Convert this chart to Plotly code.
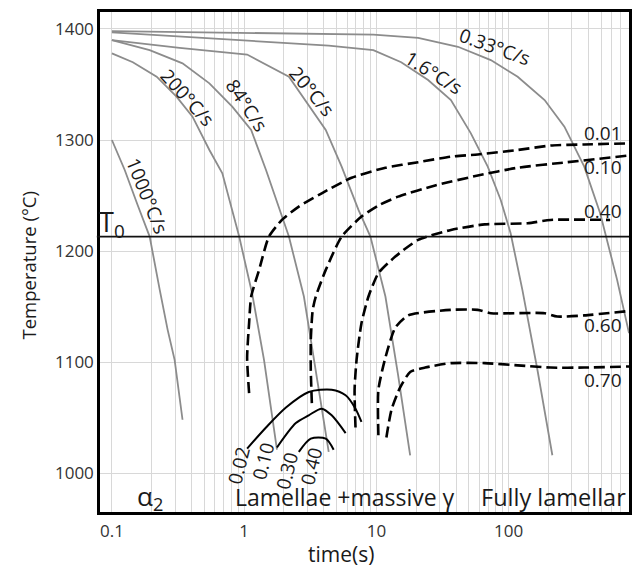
import numpy as np
import plotly.graph_objects as go

# ---------------- data ----------------
# cooling curves: time (s) / temperature (°C)
t_1000 = [0.100, 0.125, 0.157, 0.193, 0.230, 0.264, 0.298, 0.342]
T_1000 = [1300, 1273, 1241, 1213, 1165, 1129, 1102, 1048]
t_200 = [0.100, 0.144, 0.218, 0.308, 0.407, 0.546, 0.684, 0.917, 1.148, 1.413, 1.77]
T_200 = [1378, 1370, 1357, 1339, 1321, 1291, 1270, 1213, 1162, 1102, 1021]
t_84 = [0.100, 0.193, 0.342, 0.546, 0.813, 1.13, 1.463, 2.18, 2.83, 3.36, 4.36]
T_84 = [1390, 1381, 1369, 1351, 1330, 1309, 1273, 1213, 1159, 1102, 1019]
t_20 = [0.100, 0.325, 1.053, 2.18, 4.14, 5.46, 7.32, 9.01, 11.7, 14.6, 18.0]
T_20 = [1390, 1383, 1377, 1357, 1309, 1276, 1237, 1213, 1159, 1088, 1016]
t_16 = [0.100, 4.36, 9.48, 15.4, 24.6, 36.6, 51.8, 69.5, 87.1, 103.5, 127, 165, 214]
T_16 = [1397, 1385, 1381, 1370, 1354, 1336, 1306, 1276, 1246, 1216, 1165, 1093, 1016]
t_033 = [0.100, 9.48, 20.7, 41.4, 73.3, 117, 187, 264, 373, 492, 661, 813]
T_033 = [1398, 1395, 1392, 1384, 1372, 1357, 1336, 1312, 1276, 1234, 1174, 1126]

rate_labels = ["1000°C/s", "200°C/s", "84°C/s", "20°C/s", "1.6°C/s", "0.33°C/s"]

# transformed-fraction (dashed) curves
t_d001 = [1.09, 1.053, 1.09, 1.13, 1.297, 1.54, 1.93, 2.59, 3.86, 6.49, 11.7, 20.7, 36.6, 58.4, 117, 207, 373, 813]
T_d001 = [1072, 1104, 1135, 1159, 1183, 1213, 1228, 1240, 1252, 1266, 1275, 1280, 1285, 1287, 1291, 1295, 1296, 1297]
t_d010 = [3.25, 3.19, 3.19, 3.30, 3.48, 4.14, 5.46, 7.71, 10.35, 14.6, 27.8, 58.4, 117, 278, 813]
T_d010 = [1063, 1093, 1120, 1147, 1159, 1183, 1213, 1231, 1241, 1249, 1259, 1268, 1275, 1280, 1286]
t_d040 = [6.95, 6.84, 7.08, 7.71, 8.71, 10.35, 13.9, 20.7, 36.6, 66, 139, 207, 585]
T_d040 = [1041, 1075, 1102, 1135, 1159, 1180, 1195, 1210, 1219, 1224, 1225, 1228, 1228]
t_d060 = [10.35, 10.35, 11.7, 13.9, 17.4, 36.6, 58.4, 73.3, 187, 233, 373, 813]
T_d060 = [1034, 1075, 1104, 1131, 1142, 1147, 1147, 1144, 1144, 1141, 1142, 1146]
t_d070 = [11.9, 13.0, 15.1, 18.0, 23.4, 36.6, 66, 117, 207, 373, 813]
T_d070 = [1032, 1057, 1077, 1091, 1095, 1099, 1099, 1097, 1095, 1095, 1096]
dash_labels = ["0.01", "0.10", "0.40", "0.60", "0.70"]

# massive-transformation (solid black) curves
t_s002 = [1.053, 1.463, 2.07, 3.08, 4.59, 5.85, 6.95, 7.71]
T_s002 = [1022, 1041, 1059, 1073, 1075, 1070, 1058, 1046]
t_s010 = [1.77, 2.46, 3.08, 3.86, 4.59, 5.85]
T_s010 = [1023, 1045, 1052, 1058, 1052, 1036]
t_s030 = [2.59, 3.19, 4.14, 4.75]
T_s030 = [1019, 1031, 1031, 1021]
solid_labels = ["0.02", "0.10", "0.30", "0.40"]

T0 = 1213
x_ticks = [0.1, 1, 10, 100]
x_ticktext = ["0.1", "1", "10", "100"]
y_ticks = [1000, 1100, 1200, 1300, 1400]

# ---------------- figure ----------------
fig = go.Figure()
GRAY = "#8c8c8c"
for tt, TT in [(t_1000, T_1000), (t_200, T_200), (t_84, T_84), (t_20, T_20),
               (t_16, T_16), (t_033, T_033)]:
    fig.add_trace(go.Scatter(x=tt, y=TT, mode="lines",
                             line=dict(color=GRAY, width=1.8)))
for tt, TT in [(t_d001, T_d001), (t_d010, T_d010), (t_d040, T_d040),
               (t_d060, T_d060), (t_d070, T_d070)]:
    fig.add_trace(go.Scatter(x=tt, y=TT, mode="lines",
                             line=dict(color="black", width=2.6, dash="11px,5px",
                                       shape="spline", smoothing=0.6)))
for tt, TT in [(t_s002, T_s002), (t_s010, T_s010), (t_s030, T_s030)]:
    fig.add_trace(go.Scatter(x=tt, y=TT, mode="lines",
                             line=dict(color="black", width=2.0,
                                       shape="spline", smoothing=0.8)))

fig.add_shape(type="line", xref="paper", x0=-0.006, x1=1, yref="y",
              y0=T0, y1=T0, line=dict(color="#111", width=1.8))

# minor grid positions (2..9 per decade)
grid_vals = [m * 10 ** e for e in range(-1, 3) for m in range(2, 10)]

fig.update_xaxes(type="log", range=[-1.09, 2.91], tickvals=x_ticks,
                 ticktext=x_ticktext, showgrid=True, gridcolor="#d8d8d8",
                 gridwidth=1,
                 minor=dict(tickmode="array", tickvals=grid_vals, showgrid=True,
                            gridcolor="#d8d8d8", gridwidth=1, ticks=""),
                 showline=True, linecolor="black", linewidth=2.5,
                 mirror=True, ticks="", zeroline=False, ticklabelstandoff=2,
                 tickfont=dict(size=17, color="#333"))
fig.update_yaxes(range=[964.9, 1415.3], tickvals=y_ticks, showgrid=True,
                 gridcolor="#d8d8d8", gridwidth=1, showline=True,
                 linecolor="black", linewidth=2.5, mirror=True, ticks="",
                 zeroline=False, tickfont=dict(size=17, color="#333"))

ann = []
def add(text, x, y, size=17, angle=0, xanchor="center", yanchor="middle",
        xref="x", yref="y", color="#1a1a1a", yshift=0):
    ann.append(dict(text=text, x=x, y=y, xref=xref, yref=yref, showarrow=False,
                    textangle=angle, xanchor=xanchor, yanchor=yanchor,
                    font=dict(size=size, color=color), borderpad=0,
                    yshift=yshift))

# cooling-rate labels (x given as log10 of time)
rate_pos = [(-0.73, 1250, 68), (-0.425, 1338, 48), (0.025, 1331, 56),
            (0.51, 1344, 50), (1.435, 1360, 32), (1.90, 1384, 20)]
for lab, (x, y, a) in zip(rate_labels, rate_pos):
    add(lab, x, y, size=19, angle=a)
for lab, y in zip(dash_labels, [1306, 1276, 1236, 1133, 1084]):
    add(lab, 2.714, y, size=19)
for lab, x, y in zip(solid_labels, [-0.0376, 0.143, 0.323, 0.511],
                     [1007, 1011, 1002, 1006]):
    add(lab, x, y, size=19, angle=-76)

add("T<sub>0</sub>", -0.004, T0, size=27, xanchor="left", yanchor="bottom",
    xref="paper", yshift=-8)
add("α<sub>2</sub>", -0.714, 978, size=26)
add("Lamellae +massive γ", -0.075, 978, size=23, xanchor="left")
add("Fully lamellar", 2.895, 978, size=23.5, xanchor="right")
add("Temperature (°C)", -0.137, 0.492, size=18.5, angle=-90, xref="paper",
    yref="paper")
add("time(s)", 0.455, -0.084, size=21, xref="paper", yref="paper")

fig.update_layout(width=640, height=570,
                  margin=dict(l=100, r=8, t=12, b=58),
                  plot_bgcolor="white", paper_bgcolor="white",
                  showlegend=False, annotations=ann,
                  font=dict(family="Open Sans", color="#1a1a1a"))

fig.write_html("out.html")
